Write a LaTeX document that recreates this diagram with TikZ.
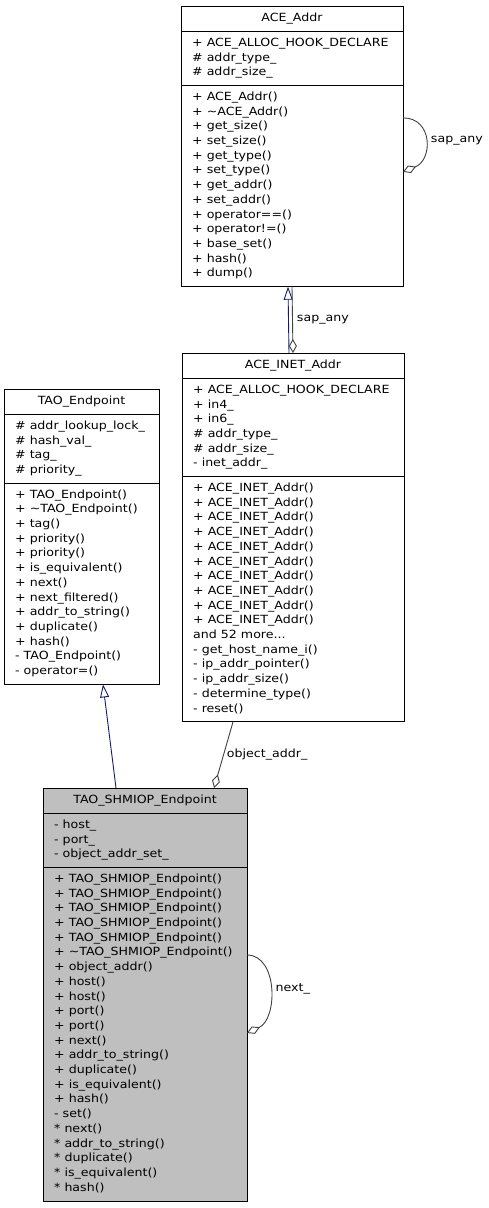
\documentclass[tikz,border=0pt]{standalone}
\usepackage{fontspec}
\setmainfont{DejaVu Sans}[FakeStretch=1.12]
\usepackage{tikz}
\usetikzlibrary{calc,arrows.meta}
\definecolor{navyedge}{HTML}{191970}
\definecolor{edgegrey}{HTML}{404040}
\definecolor{boxgrey}{HTML}{BFBFBF}
\tikzset{
  uml/.style    = {draw=black, line width=1bp, inner sep=0pt, outer sep=0pt, anchor=north west},
  umltext/.style= {inner sep=0pt, font=\fontsize{11.3}{13}\selectfont},
  member/.style = {umltext, anchor=base west},
  edgelbl/.style= {umltext, anchor=west, text=black},
  inherit/.style= {draw=navyedge, line width=0.9bp, -{Triangle[open, length=13bp, width=9bp]}},
  aggr/.style   = {draw=edgegrey, line width=0.9bp, -{Diamond[open, length=14bp, width=8bp]}},
}
\def\moredots{...}
% class box: name, width, attribute lines, operation lines, fill
\def\umlclass(#1)<#2,#3,#4,#5>[#6] at (#7);{
  \pgfmathsetmacro\hattr{#3*14.7+10}
  \pgfmathsetmacro\hoper{#4*14.7+10}
  \pgfmathsetmacro\hall{25.5+\hattr+\hoper}
  \node[uml, fill=#5, minimum width=#2 bp, minimum height=\hall bp] (#1) at (#7) {};
  \node[umltext] (#1_title) at ($(#1.north)+(0,13)$) {#6};
  \draw[line width=1bp] ($(#1.north west)+(0,25.5)$) coordinate (#1_attr) -- ++(#2,0);
  \draw[line width=1bp] ($(#1_attr)+(0,\hattr)$) coordinate (#1_oper) -- ++(#2,0);
}
\def\members(#1)#2;{
  \foreach \m [count=\i from 0] in {#2}
    \node[member] (#1_\i) at ($(#1)+(11,14.8+\i*14.7)$) {\m};
}
\begin{document}
\begin{tikzpicture}[x=1bp,y=-1bp]
\useasboundingbox (0,0) rectangle (489,1208);

\umlclass(addr)<222,3,13,white>[ACE\_Addr] at (181,6);
\members(addr_attr){+ ACE\_ALLOC\_HOOK\_DECLARE, \# addr\_type\_, \# addr\_size\_};
\members(addr_oper){+ ACE\_Addr(), + \textasciitilde ACE\_Addr(), + get\_size(), + set\_size(),
  + get\_type(), + set\_type(), + get\_addr(), + set\_addr(), + operator==(), + operator!=(),
  + base\_set(), + hash(), + dump()};

\umlclass(inet)<222,6,16,white>[ACE\_INET\_Addr] at (182,353);
\members(inet_attr){+ ACE\_ALLOC\_HOOK\_DECLARE, + in4\_, + in6\_, \# addr\_type\_,
  \# addr\_size\_, - inet\_addr\_};
\members(inet_oper){+ ACE\_INET\_Addr(), + ACE\_INET\_Addr(), + ACE\_INET\_Addr(),
  + ACE\_INET\_Addr(), + ACE\_INET\_Addr(), + ACE\_INET\_Addr(), + ACE\_INET\_Addr(),
  + ACE\_INET\_Addr(), + ACE\_INET\_Addr(), + ACE\_INET\_Addr(), and 52 more\moredots,
  - get\_host\_name\_i(), - ip\_addr\_pointer(), - ip\_addr\_size(), - determine\_type(), - reset()};

\umlclass(tao)<155,4,13,white>[TAO\_Endpoint] at (4,389);
\members(tao_attr){\# addr\_lookup\_lock\_, \# hash\_val\_, \# tag\_, \# priority\_};
\members(tao_oper){+ TAO\_Endpoint(), + \textasciitilde TAO\_Endpoint(), + tag(), + priority(),
  + priority(), + is\_equivalent(), + next(), + next\_filtered(), + addr\_to\_string(),
  + duplicate(), + hash(), - TAO\_Endpoint(), - operator=()};

\umlclass(shmiop)<204,3,22,boxgrey>[TAO\_SHMIOP\_Endpoint] at (43,788);
\members(shmiop_attr){- host\_, - port\_, - object\_addr\_set\_};
\members(shmiop_oper){+ TAO\_SHMIOP\_Endpoint(), + TAO\_SHMIOP\_Endpoint(), + TAO\_SHMIOP\_Endpoint(),
  + TAO\_SHMIOP\_Endpoint(), + TAO\_SHMIOP\_Endpoint(), + \textasciitilde TAO\_SHMIOP\_Endpoint(),
  + object\_addr(), + host(), + host(), + port(), + port(), + next(), + addr\_to\_string(),
  + duplicate(), + is\_equivalent(), + hash(), - set(), * next(), * addr\_to\_string(),
  * duplicate(), * is\_equivalent(), * hash()};

%---------------------------------------------
\draw[inherit] ($(inet.north)+(-4,0)$) -- ($(addr.south)+(-4,0)$);
\draw[aggr] ($(addr.south)+(0,0)$) -- (inet.north)
  node[edgelbl, pos=0.5, right=4bp] (sapany) {sap\_any};
\draw[aggr] ($(addr.east)+(0,-28.5)$) .. controls +(30,0) and +(30,-12) .. ($(addr.east)+(0,25.5)$)
  node[edgelbl, pos=0.5, right=5bp] (sapself) {sap\_any};

\draw[inherit] ($(shmiop.north)+(-29,0)$) -- ($(tao.south)+(21.5,0)$);
\draw[aggr] ($(inet.south)+(-60,0)$) -- ($(shmiop.north)+(69,0)$)
  node[edgelbl, pos=0.5, right=3bp] (objaddr) {object\_addr\_};
\draw[aggr] ($(shmiop.east)+(0,-39.5)$) .. controls +(31,0) and +(31,-14) .. ($(shmiop.east)+(0,38.5)$)
  node[edgelbl, pos=0.5, right=5bp] (nextlbl) {next\_};
\end{tikzpicture}
\end{document}
